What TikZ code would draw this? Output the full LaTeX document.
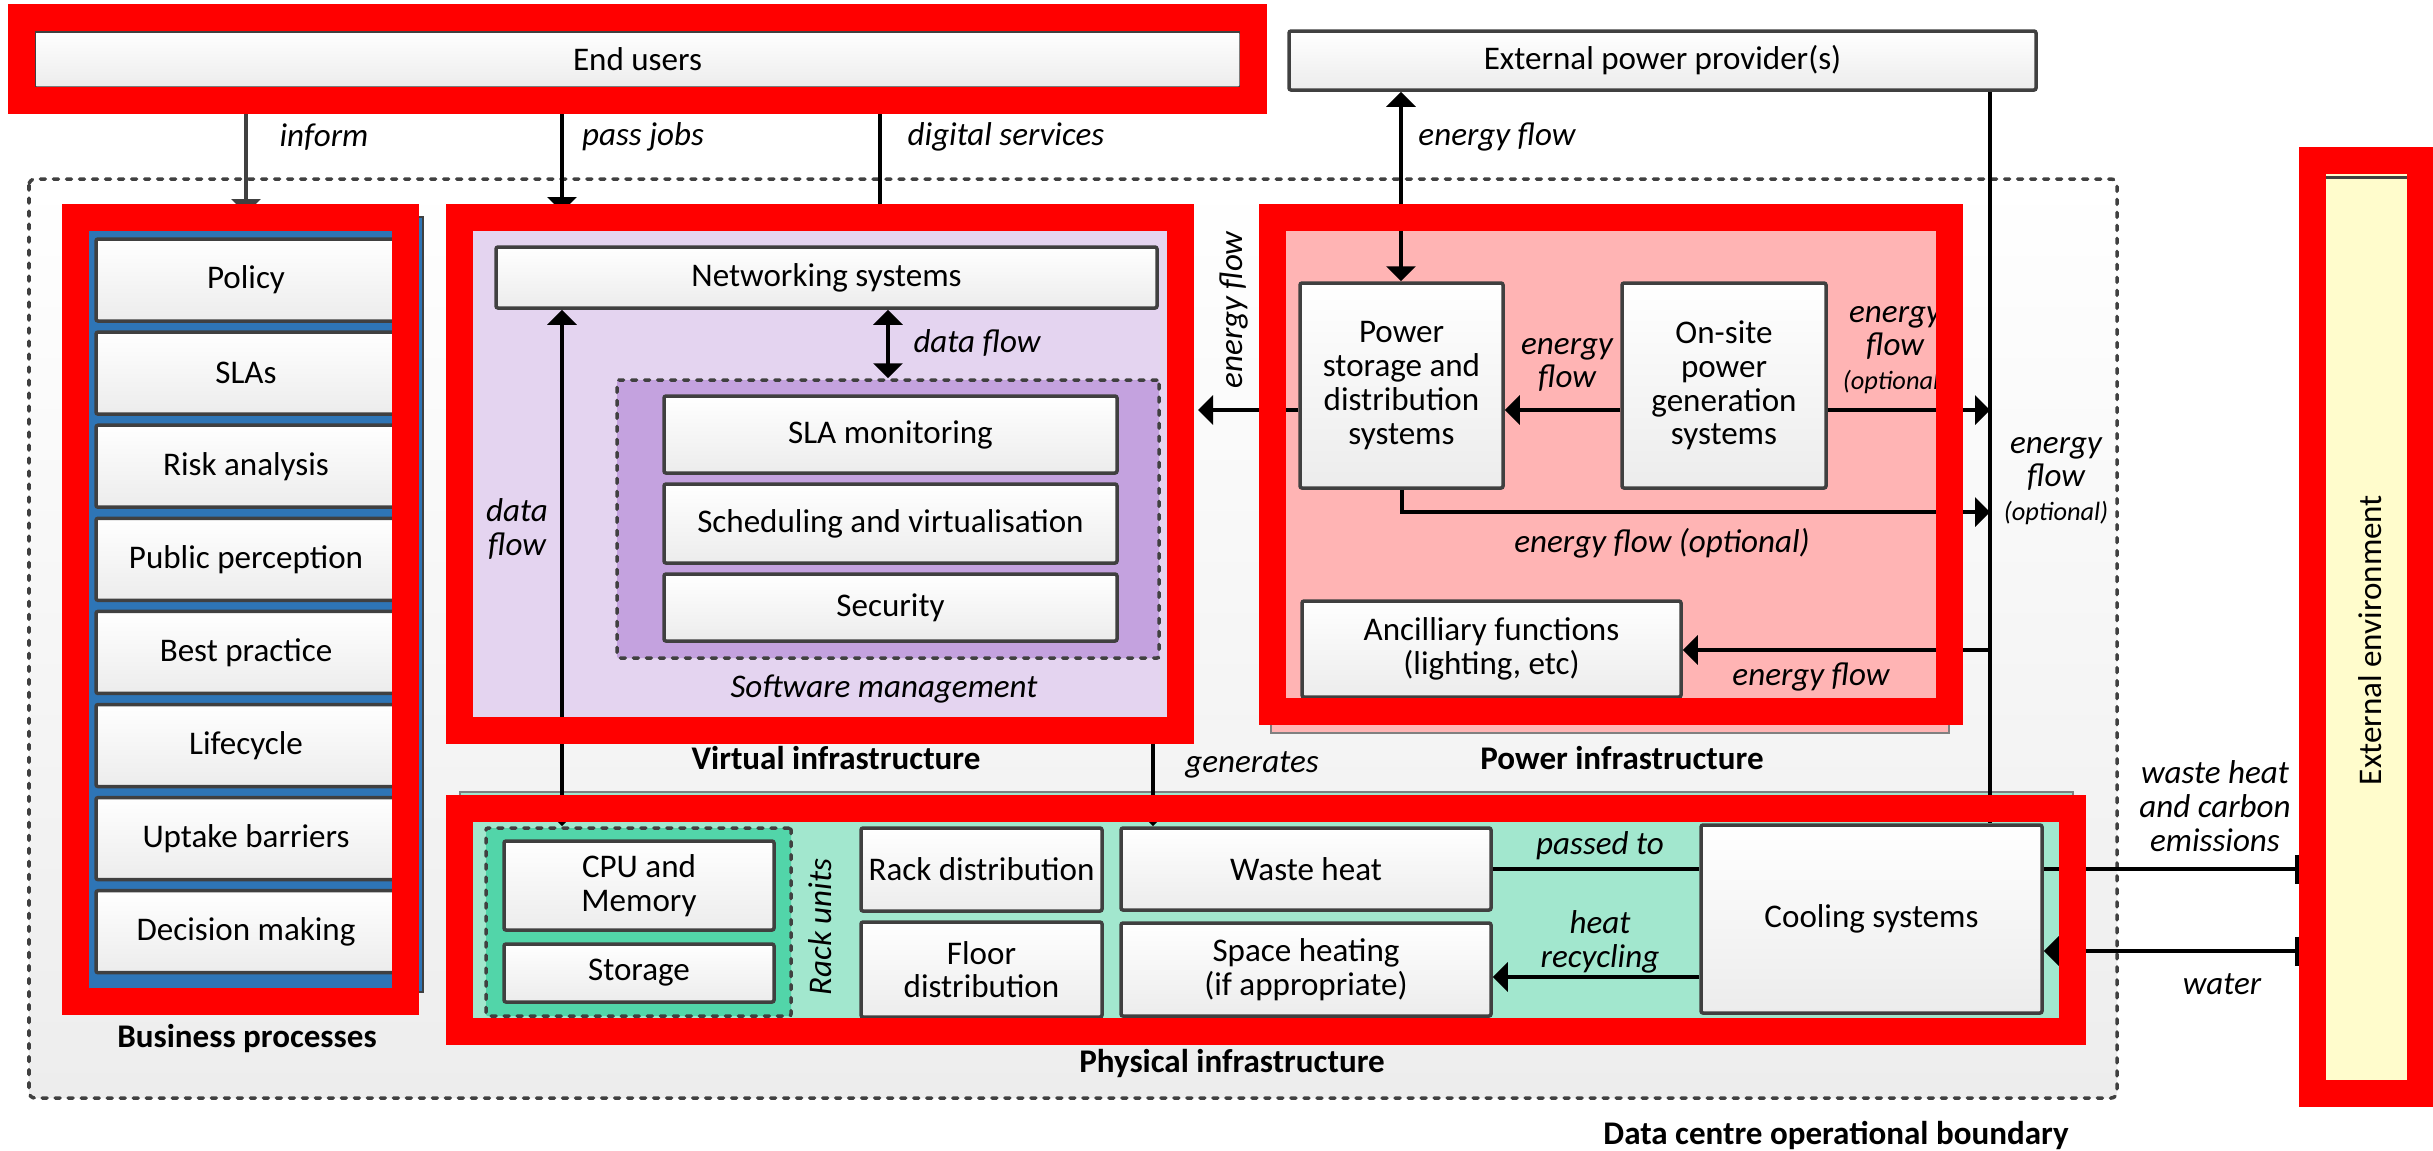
\documentclass[tikz,border=0pt]{standalone}
\usepackage{fontspec}
\setmainfont{Carlito}
\usetikzlibrary{arrows.meta,fit}
\definecolor{edge}{HTML}{404040}
\definecolor{frame}{HTML}{FF0000}
\definecolor{bizblue}{HTML}{2E75B6}
\definecolor{virtfill}{HTML}{E4D4F0}
\definecolor{softfill}{HTML}{C4A2DF}
\definecolor{powfill}{HTML}{FFB4B4}
\definecolor{physfill}{HTML}{A2E7CE}
\definecolor{rackfill}{HTML}{52D5A9}
\definecolor{envfill}{HTML}{FFFCCC}
\definecolor{bglow}{HTML}{EDEDED}
\definecolor{boxlow}{HTML}{ECECEC}
\pgfdeclarelayer{backdrop}
\pgfdeclarelayer{front}
\pgfsetlayers{backdrop,main,front}
\tikzset{
  every node/.style={font=\fontsize{9.4}{9.6}\selectfont, inner sep=0pt},
  % place a node by its corner pixels: left/top/right/bottom
  spot/.style n args={4}{anchor=center, at={({((#1)+(#3))/2},{((#2)+(#4))/2})},
      minimum width={((#3)-(#1))*0.01cm}, minimum height={((#4)-(#2))*0.01cm}},
  box/.style={draw=edge, line width=0.035cm, rounded corners=0.02cm,
              top color=white, bottom color=boxlow, align=center},
  dashframe/.style={draw=edge, line width=0.035cm, dash pattern=on 0.05cm off 0.08cm, line cap=round},
  hilite/.style={draw=frame, line width=0.27cm, outer sep=0.135cm},
  conn/.style={line width=0.04cm, draw=black},
  onearrow/.style={-{Triangle[length=0.15cm,width=0.29cm]}},
  twoarrow/.style={{Triangle[length=0.15cm,width=0.29cm]}-{Triangle[length=0.15cm,width=0.29cm]}},
  lbl/.style={font=\fontsize{9.4}{9.6}\selectfont\itshape, align=center},
  heading/.style={font=\fontsize{9.4}{9.6}\selectfont\bfseries},
}
\newcommand\optsize{\fontsize{7.5}{8}\selectfont}
\begin{document}
\begin{tikzpicture}[x=0.01cm, y=-0.01cm]
\useasboundingbox (0,0) rectangle (2433,1150);

% red highlight frames, always on top
\begin{pgfonlayer}{front}
\node[hilite, fit={(21.5,17.5) (1253.5,100.5)}] (fEnd) {};
\node[hilite, fit={(75.5,217.5) (405.5,1001.5)}] (fBiz) {};
\node[hilite, fit={(459.5,217.5) (1180.5,730.5)}] (fVirt) {};
\node[hilite, fit={(1272.5,217.5) (1949.5,711.5)}] (fPow) {};
\node[hilite, fit={(459.5,808.5) (2072.5,1031.5)}] (fPhys) {};
\node[hilite, fit={(2312.5,160.5) (2420.5,1093.5)}] (fEnv) {};
\end{pgfonlayer}

% operational boundary
\begin{pgfonlayer}{backdrop}
\draw[dashframe, top color=white, bottom color=bglow, rounded corners=0.06cm]
  (29,179) rectangle (2117,1098);
\end{pgfonlayer}

% group backgrounds
\filldraw[fill=bizblue, draw=edge, line width=0.02cm] (88,217) rectangle (423,992);
\fill[virtfill] (460,217) rectangle (1181,731);
\filldraw[fill=powfill, draw=gray, line width=0.02cm] (1271,216) rectangle (1949,733);
\filldraw[fill=physfill, draw=gray, line width=0.02cm] (460,792) rectangle (2073,1032);
\fill[envfill] (2313,161) rectangle (2421,1094);
\draw[edge, line width=0.03cm] (2313,177.5) -- (2421,177.5);

% top row
\node[box, spot={34}{31}{1241}{88}] (endusers) {End users};
\node[box, spot={1289}{31}{2036}{90}] (extpower) {External power provider(s)};

% business processes
\foreach \t/\n [count=\i from 0] in {Policy/policy, SLAs/slas, Risk analysis/risk,
    Public perception/public, Best practice/best, Lifecycle/life,
    Uptake barriers/uptake, Decision making/decision}
  \node[box, spot={96}{239+93.1*\i}{396}{321+93.1*\i}] (\n) {\t};

% virtual infrastructure
\node[box, spot={496}{247}{1157}{308}] (net) {Networking systems};
\node[dashframe, fill=softfill, rounded corners=0.02cm, spot={617}{380}{1159}{658}] (soft) {};
\node[box, spot={664}{396}{1117}{473}] (sla) {SLA monitoring};
\node[box, spot={664}{484}{1117}{563}] (sched) {Scheduling and virtualisation};
\node[box, spot={664}{574}{1117}{641}] (sec) {Security};

% power infrastructure
\node[box, spot={1300}{283}{1503}{488}] (pstore) {Power\\storage and\\distribution\\systems};
\node[box, spot={1622}{283}{1826}{488}] (onsite) {On-site\\power\\generation\\systems};
\node[box, spot={1302}{601}{1681}{697}] (ancil) {Ancilliary functions\\(lighting, etc)};

% physical infrastructure
\node[dashframe, fill=rackfill, rounded corners=0.02cm, spot={486}{828}{791}{1016}] (rack) {};
\node[box, spot={504}{841}{774}{930}] (cpu) {CPU and\\Memory};
\node[box, spot={504}{944}{774}{1002}] (storage) {Storage};
\node[box, spot={861}{828}{1102}{911}] (rackdist) {Rack distribution};
\node[box, spot={861}{922}{1102}{1017}] (floordist) {Floor\\distribution};
\node[box, spot={1121}{828}{1491}{910}] (waste) {Waste heat};
\node[box, spot={1121}{923}{1491}{1016}] (spaceheat) {Space heating\\(if appropriate)};
\node[box, spot={1701}{825}{2042}{1013}] (cooling) {Cooling systems};

% connector positions
\coordinate (xinform) at (246,0);
\coordinate (xjobs) at (562,0);
\coordinate (xdigital) at (880,0);
\coordinate (xnet) at (888,0);
\coordinate (xgen) at (1153,0);
\coordinate (xenergy) at (1401,0);
\coordinate (xbus) at (1990,0);
\coordinate (j1) at (1990,410);
\coordinate (j2) at (1990,512);
\coordinate (j3) at (1990,650);
\coordinate (yrecycle) at (0,977);
\coordinate (ywater) at (0,951);

% connectors
\draw[conn, draw=edge, onearrow, shorten >=-0.1cm] (endusers.south -| xinform) -- (fBiz.north -| xinform);
\draw[conn, onearrow, shorten >=-0.08cm] (endusers.south -| xjobs) -- (fVirt.north -| xjobs);
\draw[conn] (endusers.south -| xdigital) -- (fVirt.north -| xdigital);
\draw[conn, twoarrow] (extpower.south -| xenergy) -- (pstore.north -| xenergy);
\draw[conn] (extpower.south -| xbus) -- (cooling.north -| xbus);
\draw[conn, onearrow] (onsite.west |- j1) -- (pstore.east |- j1);
\draw[conn, onearrow] (onsite.east |- j1) -- (j1);
\draw[conn, onearrow, shorten >=0.04cm] (pstore.west |- j1) -- (fVirt.east |- j1);
\draw[conn, onearrow] (pstore.south) |- (j2);
\draw[conn, onearrow] (j3) -- (ancil.east |- j3);
\draw[conn, twoarrow] (net.south -| xnet) -- (soft.north -| xnet);
\draw[conn, twoarrow] (rack.north -| xjobs) -- (net.south -| xjobs);
\draw[conn, onearrow] (fVirt.south -| xgen) -- (waste.north -| xgen);
\draw[conn] (waste.east) -- (waste.east -| cooling.west);
\draw[conn, onearrow] (cooling.west |- yrecycle) -- (spaceheat.east |- yrecycle);
\draw[conn, -{Bar[width=0.29cm]}] (cooling.east |- waste.east) -- (fEnv.west |- waste.east);
\draw[conn, {Bar[width=0.29cm]}-{Triangle[length=0.15cm,width=0.29cm]}] (fEnv.west |- ywater) -- (cooling.east |- ywater);

% connector labels
\node[lbl] (tInform) at (324,137) {inform};
\node[lbl] (tJobs) at (643,137) {pass jobs};
\node[lbl] (tDigital) at (1006,137) {digital services};
\node[lbl] (tEnergyExt) at (1497,137) {energy flow};
\node[lbl] (tDataNet) at (977,343) {data flow};
\node[lbl] (tDataVert) at (517,529) {data\\flow};
\node[lbl] (tSoft) at (884,689) {Software management};
\node[lbl, rotate=90] (tEnergyRot) at (1234,310) {energy flow};
\node[lbl] (tEnergyGen) at (1567,365) {energy\\flow};
\node[lbl] (tEnergyOpt1) at (1895,350) {energy\\flow\\\optsize(optional)};
\node[lbl] (tEnergyOpt2) at (1662,543) {energy flow (optional)};
\node[lbl] (tEnergyAnc) at (1811,677) {energy flow};
\node[lbl] (tGen) at (1252,765) {generates};
\node[lbl] (tPassed) at (1600,846) {passed to};
\node[lbl] (tRecycle) at (1600,942) {heat\\recycling};
\node[lbl, rotate=90] (tRack) at (820,927) {Rack units};
\node[lbl] (tWaste) at (2215,806) {waste heat\\and carbon\\emissions};
\node[lbl] (tWater) at (2222,984) {water};
\node[lbl] (tEnergyOpt3) at (2056,481) {energy\\flow\\\optsize(optional)};

% group titles
\node[heading] (tBiz) at (247,1038) {Business processes};
\node[heading] (tVirt) at (836,758) {Virtual infrastructure};
\node[heading] (tPow) at (1622,758) {Power infrastructure};
\node[heading] (tPhys) at (1232,1063) {Physical infrastructure};
\node[heading] (tBoundary) at (1836,1135) {Data centre operational boundary};
\node[rotate=90] (tEnv) at (2370,640) {External environment};
\end{tikzpicture}
\end{document}
